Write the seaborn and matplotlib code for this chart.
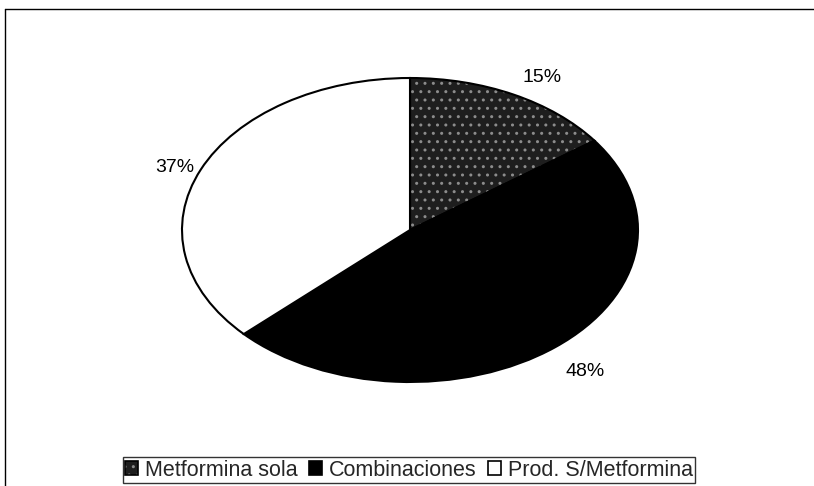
import numpy as np
import matplotlib
matplotlib.use("Agg")
import matplotlib.pyplot as plt
import seaborn as sns
from matplotlib.patches import Patch
from matplotlib.lines import Line2D

sns.set_theme(style="white")
plt.rcParams['font.family'] = ['Liberation Sans', 'DejaVu Sans']

categories = ["Metformina sola", "Combinaciones", "Prod. S/Metformina"]
values = [15, 48, 37]
pct_labels = ["15%", "48%", "37%"]
colors = ["#1e1e1e", "#000000", "#ffffff"]
# label anchor positions (in pie radius units)
label_pos = [(0.58, 1.0), (0.77, -0.93), (-1.03, 0.41)]

fig = plt.figure(figsize=(8.14, 4.86), dpi=100)
W, H = 814, 486
cx, cy, rx, ry = 410, 230, 228, 152
ax = fig.add_axes([(cx - rx) / W, (H - cy - ry) / H, 2 * rx / W, 2 * ry / H])

wedges, _ = ax.pie(values, colors=colors, startangle=90, counterclock=False,
                   wedgeprops=dict(edgecolor="black", linewidth=1.5))
wedges[0].set_hatch("..")
wedges[0]._hatch_color = (0.55, 0.55, 0.55, 1.0)
ax.set_aspect("auto")
ax.set_xlim(-1.0, 1.0)
ax.set_ylim(-1.0, 1.0)
ax.axis("off")

for lab, (x, y) in zip(pct_labels, label_pos):
    ax.text(x, y, lab, ha="center", va="center", fontsize=14, color="black",
            clip_on=False, zorder=5)

handles = [Patch(facecolor=c, edgecolor="black", linewidth=1.2) for c in colors]
handles[0].set_hatch("..")
handles[0]._hatch_color = (0.55, 0.55, 0.55, 1.0)
leg = fig.legend(handles, categories, loc="center", bbox_to_anchor=(409 / W, 1 - 470 / H),
                 ncol=3, frameon=True, fontsize=15.5, handlelength=0.6, handleheight=0.6,
                 handletextpad=0.35, columnspacing=0.5, borderpad=0.1,
                 fancybox=False, edgecolor="black", borderaxespad=0)
leg.get_frame().set_linewidth(1.0)

# outer frame (top and left edges visible in scan)
fig.add_artist(Line2D([5 / W, 1.0], [1 - 9 / H, 1 - 9 / H], color="black", lw=1.0,
                      transform=fig.transFigure))
fig.add_artist(Line2D([5 / W, 5 / W], [1 - 9 / H, 0], color="black", lw=1.0,
                      transform=fig.transFigure))

fig.savefig("out.png", dpi=100, facecolor="white")
